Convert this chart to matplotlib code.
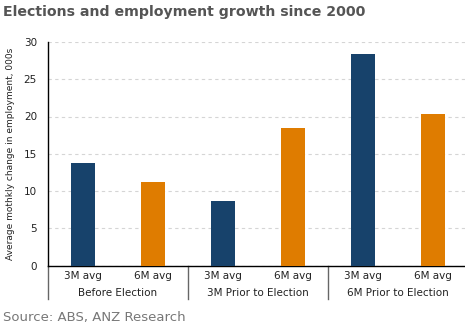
import matplotlib
matplotlib.use("Agg")
import matplotlib.pyplot as plt
from matplotlib.lines import Line2D

# data
groups = ["Before Election", "3M Prior to Election", "6M Prior to Election"]
bar_labels = ["3M avg", "6M avg"] * 3
values = [13.8, 11.2, 8.6, 18.5, 28.4, 20.3]
colors = ["#17426B", "#DF7C00"] * 3

fig = plt.figure(figsize=(4.65, 3.29), dpi=100)
ax = fig.add_axes([48 / 465, 63.5 / 329, 420 / 465, 223.5 / 329])

x = list(range(len(values)))
ax.bar(x, values, width=0.33, color=colors, zorder=3)

ax.set_xlim(-0.5, 5.5)
ax.set_ylim(0, 30)
ax.set_yticks(range(0, 31, 5))
ax.set_xticks(x)
ax.set_xticklabels(bar_labels)
ax.tick_params(axis="x", length=0, pad=4, labelsize=7.5, colors="#222222")
ax.tick_params(axis="y", length=0, pad=8, labelsize=7.5, colors="#222222")
ax.yaxis.grid(True, linestyle=(0, (3, 3)), color="#D5D5D5", linewidth=0.8, zorder=0)

for s in ["top", "right"]:
    ax.spines[s].set_visible(False)
ax.spines["left"].set_color("black")
ax.spines["bottom"].set_color("black")
ax.spines["left"].set_linewidth(1)
ax.spines["bottom"].set_linewidth(1)

ax.set_ylabel("Average mothkly change in employment, 000s", fontsize=6.5,
              color="#222222", labelpad=6)

# group labels and separators
trans = ax.get_xaxis_transform()
for i, g in enumerate(groups):
    ax.text(2 * i + 0.5, -0.125, g, transform=trans, ha="center", va="center",
            fontsize=7.5, color="#222222")
for b in [-0.5, 1.5, 3.5]:
    ax.add_line(Line2D([b, b], [0, -0.15], transform=trans, color="#666666",
                       linewidth=1, clip_on=False))

fig.text(3 / 465, 1 - 12 / 329, "Elections and employment growth since 2000",
         fontsize=10.2, fontweight="bold", color="#555555", va="center", ha="left")
fig.text(3 / 465, 1 - 318 / 329, "Source: ABS, ANZ Research",
         fontsize=9.5, color="#777777", va="center", ha="left")

fig.savefig("out.png", dpi=100)
